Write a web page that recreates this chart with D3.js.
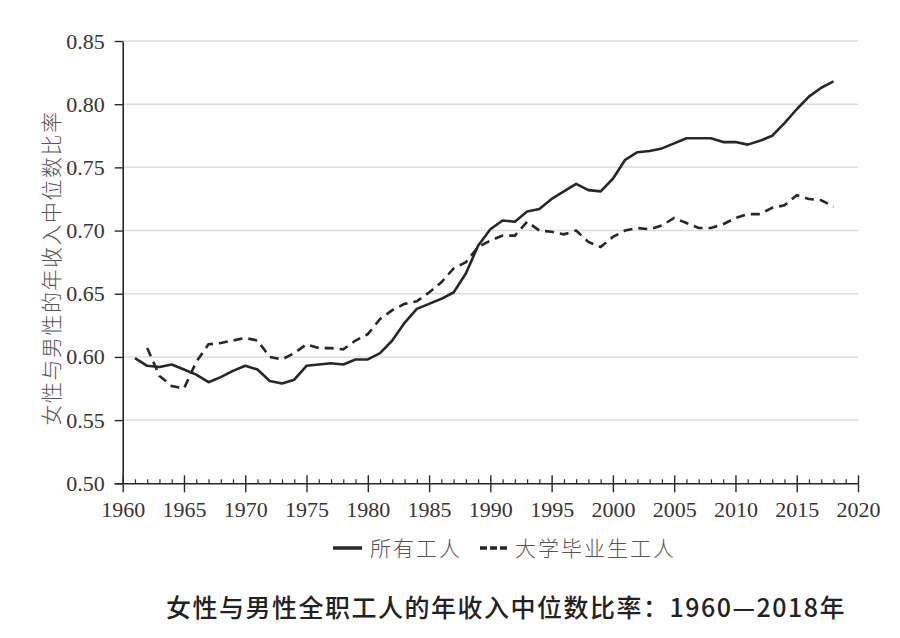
<!DOCTYPE html>
<html>
<head>
<meta charset="utf-8">
<script src="https://cdn.jsdelivr.net/npm/d3@7"></script>
<style>
  body { margin: 0; background: #fff; }
  svg { display: block; }
</style>
</head>
<body>
<svg id="chart" width="900" height="638"></svg>
<script>
// ---- Data ----
const yearsAll = d3.range(1961, 2019);
const allWorkers = [
  0.599, 0.593, 0.592, 0.594, 0.590, 0.586, 0.580, 0.584, 0.589, 0.593,
  0.590, 0.581, 0.579, 0.582, 0.593, 0.594, 0.595, 0.594, 0.598, 0.598,
  0.603, 0.613, 0.627, 0.638, 0.642, 0.646, 0.651, 0.666, 0.688, 0.701,
  0.708, 0.707, 0.715, 0.717, 0.725, 0.731, 0.737, 0.732, 0.731, 0.741,
  0.756, 0.762, 0.763, 0.765, 0.769, 0.773, 0.773, 0.773, 0.770, 0.770,
  0.768, 0.771, 0.775, 0.785, 0.796, 0.806, 0.813, 0.818
];
const yearsCollege = d3.range(1962, 2019);
const collegeWorkers = [
  0.607, 0.585, 0.577, 0.575, 0.596, 0.610, 0.611, 0.613, 0.615,
  0.613, 0.600, 0.598, 0.603, 0.610, 0.607, 0.607, 0.606, 0.613, 0.618,
  0.630, 0.637, 0.642, 0.644, 0.651, 0.659, 0.670, 0.675, 0.687, 0.692,
  0.696, 0.696, 0.707, 0.700, 0.699, 0.697, 0.700, 0.691, 0.687, 0.695,
  0.700, 0.702, 0.701, 0.704, 0.710, 0.706, 0.702, 0.702, 0.705, 0.710,
  0.713, 0.713, 0.718, 0.720, 0.728, 0.725, 0.724, 0.719
];
const xTickYears = [1960, 1965, 1970, 1975, 1980, 1985, 1990, 1995, 2000, 2005, 2010, 2015, 2020];
const yTickValues = [0.50, 0.55, 0.60, 0.65, 0.70, 0.75, 0.80, 0.85];
const seriesNames = ["所有工人", "大学毕业生工人"];
const yAxisTitle = "女性与男性的年收入中位数比率";
const chartTitle = "女性与男性全职工人的年收入中位数比率：1960—2018年";

// ---- Layout ----
const svg = d3.select("#chart");
const pLeft = 122.7, pRight = 858, pTop = 41, pBottom = 483.3;
const ink = "#2b2624";
const x = d3.scaleLinear().domain([1960, 2020]).range([pLeft, pRight]);
const y = d3.scaleLinear().domain([0.50, 0.85]).range([pBottom, pTop]);

// gridlines
svg.append("g")
  .selectAll("line")
  .data(yTickValues.filter(v => v > 0.5))
  .join("line")
  .attr("x1", pLeft).attr("x2", pRight)
  .attr("y1", d => y(d)).attr("y2", d => y(d))
  .attr("stroke", "#dcdcdc").attr("stroke-width", 1.5);

// y axis
const yAxis = svg.append("g")
  .attr("transform", `translate(${pLeft},0)`)
  .call(d3.axisLeft(y).tickValues(yTickValues).tickFormat(d3.format(".2f"))
        .tickSizeInner(8).tickSizeOuter(0).tickPadding(10));
yAxis.select(".domain").attr("stroke", ink).attr("stroke-width", 1.6);
yAxis.selectAll(".tick line").attr("stroke", ink).attr("stroke-width", 1.4);
yAxis.selectAll(".tick text")
  .attr("font-family", "'Liberation Serif', 'DejaVu Serif', serif")
  .attr("font-size", 22).attr("fill", "#3a3431");

// x axis minor ticks
const xMinor = svg.append("g")
  .attr("transform", `translate(0,${pBottom})`)
  .call(d3.axisTop(x).tickValues(d3.range(1960, 2021).filter(v => v % 5 !== 0))
        .tickSizeInner(4).tickSizeOuter(0).tickFormat(""));
xMinor.select(".domain").remove();
xMinor.selectAll(".tick line").attr("stroke", ink).attr("stroke-width", 1.2);

// x axis major
const xAxis = svg.append("g")
  .attr("transform", `translate(0,${pBottom})`)
  .call(d3.axisBottom(x).tickValues(xTickYears).tickFormat(d3.format("d"))
        .tickSizeInner(9).tickSizeOuter(0).tickPadding(9));
xAxis.select(".domain").attr("stroke", ink).attr("stroke-width", 1.6)
  .attr("d", `M${pLeft - 8},0.5H${pRight}`);
xAxis.selectAll(".tick line").attr("stroke", ink).attr("stroke-width", 1.4)
  .attr("y1", -8);
xAxis.selectAll(".tick text")
  .attr("font-family", "'Liberation Serif', 'DejaVu Serif', serif")
  .attr("font-size", 22).attr("fill", "#3a3431");

// lines
const line = d3.line().x(d => x(d[0])).y(d => y(d[1]));
svg.append("path")
  .datum(d3.zip(yearsAll, allWorkers))
  .attr("d", line)
  .attr("fill", "none").attr("stroke", ink).attr("stroke-width", 2.6)
  .attr("stroke-linejoin", "round");
svg.append("path")
  .datum(d3.zip(yearsCollege, collegeWorkers))
  .attr("d", line)
  .attr("fill", "none").attr("stroke", ink).attr("stroke-width", 2.6)
  .attr("stroke-dasharray", "9,6");

// y axis title
svg.append("text")
  .attr("transform", "translate(59,268) rotate(-90)")
  .attr("text-anchor", "middle")
  .attr("font-family", "'Noto Sans CJK SC', sans-serif")
  .attr("font-weight", 300)
  .attr("font-size", 21).attr("letter-spacing", 1.5)
  .attr("fill", "#555")
  .text(yAxisTitle);

// legend
const lg = svg.append("g");
lg.append("line").attr("x1", 333).attr("x2", 362).attr("y1", 548).attr("y2", 548)
  .attr("stroke", ink).attr("stroke-width", 3.5);
lg.append("text").attr("x", 370).attr("y", 556)
  .attr("font-family", "'Noto Sans CJK SC', sans-serif").attr("font-weight", 300)
  .attr("font-size", 21).attr("letter-spacing", 2).attr("fill", "#555")
  .text(seriesNames[0]);
lg.append("line").attr("x1", 480).attr("x2", 509).attr("y1", 548).attr("y2", 548)
  .attr("stroke", ink).attr("stroke-width", 3.5).attr("stroke-dasharray", "7,3");
lg.append("text").attr("x", 515).attr("y", 556)
  .attr("font-family", "'Noto Sans CJK SC', sans-serif").attr("font-weight", 300)
  .attr("font-size", 21).attr("letter-spacing", 2).attr("fill", "#555")
  .text(seriesNames[1]);

// title
svg.append("text")
  .attr("x", 166).attr("y", 617)
  .attr("font-family", "'Noto Sans CJK SC', sans-serif")
  .attr("font-weight", 500)
  .attr("font-size", 25).attr("letter-spacing", 1.5)
  .attr("fill", "#222")
  .text(chartTitle);
</script>
</body>
</html>
